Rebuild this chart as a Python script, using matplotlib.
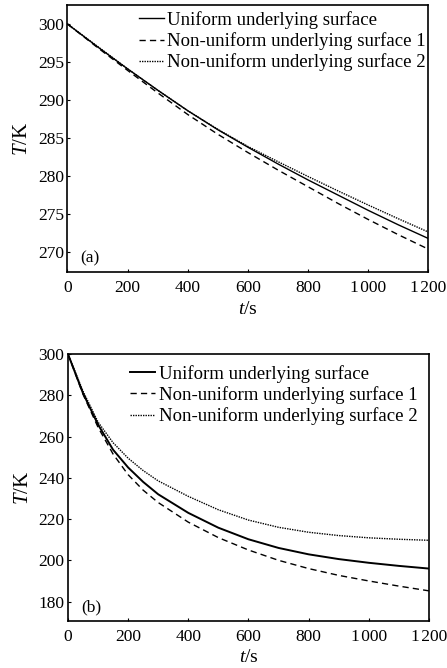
import matplotlib
matplotlib.use("Agg")
import matplotlib.pyplot as plt

plt.rcParams['font.family'] = ['Liberation Serif', 'DejaVu Serif']
plt.rcParams['mathtext.fontset'] = 'custom'
plt.rcParams['mathtext.rm'] = 'Liberation Serif'
plt.rcParams['mathtext.it'] = 'Liberation Serif:italic'
plt.rcParams['font.size'] = 12.5

labels = ['Uniform underlying surface',
          'Non-uniform underlying surface 1',
          'Non-uniform underlying surface 2']

# panel (a)
t_a = [0, 100, 200, 300, 400, 500, 600, 700, 800, 900, 1000, 1100, 1200]
uni_a = [300, 297.0, 294.1, 291.3, 288.6, 286.1, 283.8, 281.6, 279.5, 277.5, 275.5, 273.6, 271.8]
non1_a = [300, 296.9, 293.9, 290.95, 288.1, 285.5, 283.1, 280.8, 278.6, 276.4, 274.3, 272.3, 270.4]
non2_a = [300, 297.05, 294.1, 291.3, 288.6, 286.15, 283.9, 281.9, 279.95, 278.05, 276.2, 274.4, 272.65]

# panel (b)
t_b = [0, 50, 100, 150, 200, 250, 300, 400, 500, 600, 700, 800, 900, 1000, 1100, 1200]
uni_b = [300, 281, 265.8, 253.6, 245, 238, 232, 223, 215.8, 210.2, 206.0, 202.9, 200.6, 198.8, 197.3, 196.0]
non1_b = [300, 280.5, 264.5, 251.5, 241.5, 234, 228, 218.5, 211, 205, 200, 196, 192.7, 190, 187.5, 185.2]
non2_b = [300, 282, 267, 257, 249.5, 243.5, 238.5, 231, 224.5, 219.5, 216, 213.6, 212, 210.9, 210.2, 209.7]

xticks = [0, 200, 400, 600, 800, 1000, 1200]
xticklabels = ['0', '200', '400', '600', '800', '1\u200a000', '1\u200a200']
yticks_a = [270, 275, 280, 285, 290, 295, 300]
yticks_b = [180, 200, 220, 240, 260, 280, 300]

fig = plt.figure(figsize=(4.47, 6.68), dpi=100)
ax1 = fig.add_axes([0.151, 0.5928, 0.8075, 0.3997])
ax2 = fig.add_axes([0.152, 0.0704, 0.8075, 0.3997])


def style(ax, series, t, lw, yticks, ylim, tag, leg_anchor):
    ax.plot(t, series[0], color='black', lw=lw, label=labels[0])
    ax.plot(t, series[1], color='black', lw=1.0, dashes=(4.5, 3), label=labels[1])
    ax.plot(t, series[2], color='black', lw=1.0, dashes=(1, 0.8), label=labels[2])
    ax.set_xlim(0, 1200)
    ax.set_ylim(*ylim)
    ax.set_xticks(xticks)
    ax.set_xticklabels(xticklabels)
    ax.set_yticks(yticks)
    ax.tick_params(direction='in', length=2.5, width=0.8, pad=2.5)
    ax.tick_params(axis='x', pad=5.5)
    for s in ax.spines.values():
        s.set_linewidth(1.2)
    ax.set_xlabel(r'$t$/s', fontsize=14, labelpad=3.5)
    ax.set_ylabel(r'$T$/K', fontsize=15, labelpad=4)
    ax.text(0.036, 0.052, tag, transform=ax.transAxes, va='center', ha='left')
    ax.legend(loc='upper left', bbox_to_anchor=leg_anchor, frameon=False,
              borderpad=0, borderaxespad=0, handlelength=1.35, fontsize=13.5,
              handletextpad=0.18, labelspacing=0.18)


style(ax1, [uni_a, non1_a, non2_a], t_a, 1.0, yticks_a, (267.4, 302.5), '(a)', (0.197, 0.9775))
style(ax2, [uni_b, non1_b, non2_b], t_b, 1.4, yticks_b, (170.6, 300), '(b)', (0.172, 0.959))

fig.savefig('out.png', dpi=100)
